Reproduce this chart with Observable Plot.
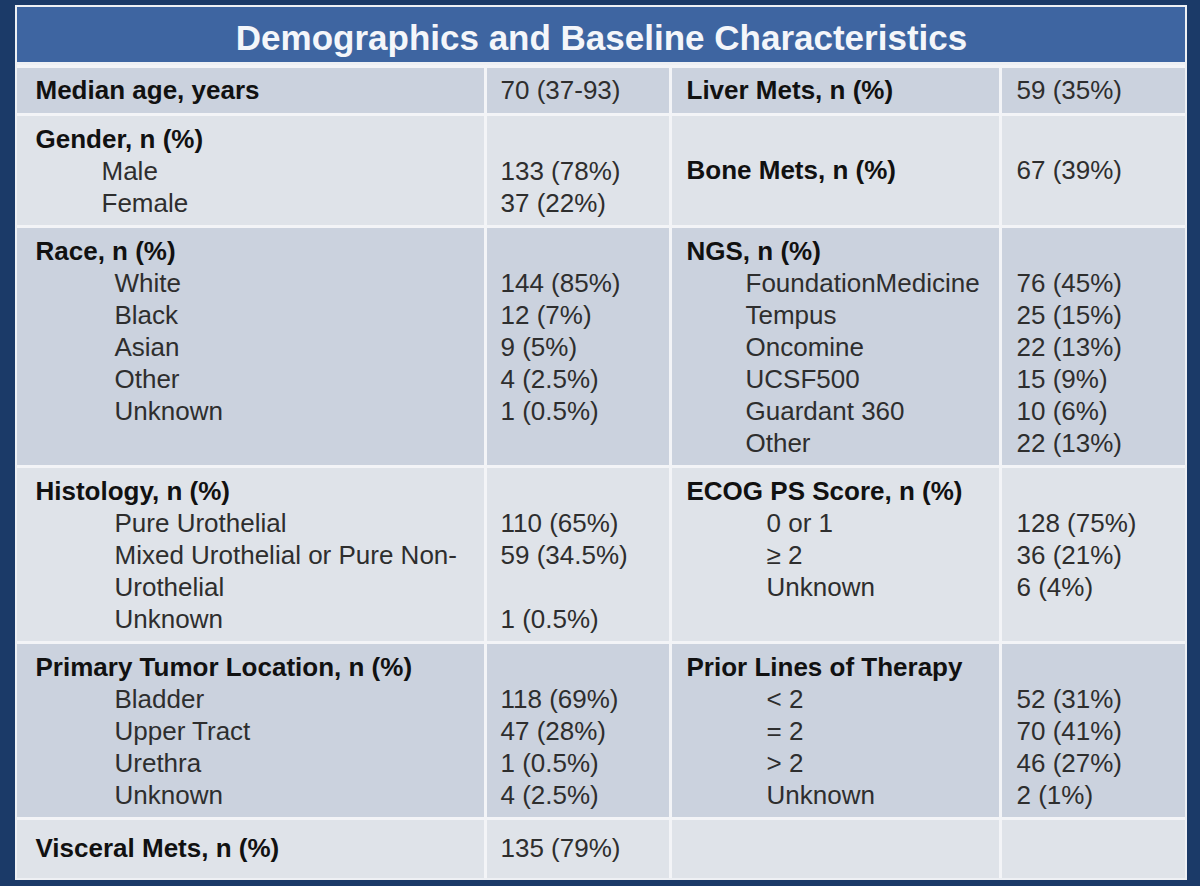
<!DOCTYPE html>
<html><head><meta charset="utf-8">
<script src="https://cdn.jsdelivr.net/npm/d3@7"></script>
<script src="https://cdn.jsdelivr.net/npm/@observablehq/plot@0.6"></script>
<style>
html,body{margin:0;padding:0;background:#1b3a68;}
#chart{width:1200px;height:886px;overflow:hidden;}
</style></head><body><div id="chart"></div>
<script>
const title = "Demographics and Baseline Characteristics";

// Section headers, left and right halves of each table row
const leftHeaders = ["Median age, years","Gender, n (%)","Race, n (%)","Histology, n (%)","Primary Tumor Location, n (%)","Visceral Mets, n (%)"];
const leftHeaderValues = ["70 (37-93)","","","","","135 (79%)"];
const rightHeaders = ["Liver Mets, n (%)","Bone Mets, n (%)","NGS, n (%)","ECOG PS Score, n (%)","Prior Lines of Therapy",""];
const rightHeaderValues = ["59 (35%)","67 (39%)","","","",""];

const genderLabels = ["Male","Female"];
const genderValues = ["133 (78%)","37 (22%)"];
const raceLabels = ["White","Black","Asian","Other","Unknown"];
const raceValues = ["144 (85%)","12 (7%)","9 (5%)","4 (2.5%)","1 (0.5%)"];
const histologyLabels = ["Pure Urothelial","Mixed Urothelial or Pure Non-\nUrothelial","Unknown"];
const histologyValues = ["110 (65%)","59 (34.5%)","1 (0.5%)"];
const tumorLabels = ["Bladder","Upper Tract","Urethra","Unknown"];
const tumorValues = ["118 (69%)","47 (28%)","1 (0.5%)","4 (2.5%)"];
const ngsLabels = ["FoundationMedicine","Tempus","Oncomine","UCSF500","Guardant 360","Other"];
const ngsValues = ["76 (45%)","25 (15%)","22 (13%)","15 (9%)","10 (6%)","22 (13%)"];
const ecogLabels = ["0 or 1","≥ 2","Unknown"];
const ecogValues = ["128 (75%)","36 (21%)","6 (4%)"];
const priorLabels = ["< 2","= 2","> 2","Unknown"];
const priorValues = ["52 (31%)","70 (41%)","46 (27%)","2 (1%)"];

const leftItems = [[[],[]],[genderLabels,genderValues],[raceLabels,raceValues],[histologyLabels,histologyValues],[tumorLabels,tumorValues],[[],[]]];
const rightItems = [[[],[]],[[],[]],[ngsLabels,ngsValues],[ecogLabels,ecogValues],[priorLabels,priorValues],[[],[]]];

// Layout (pixels for the x scale, line units for the y scale)
const layout = {
  colEdges: [17, 485, 670, 1000, 1185],
  outer: {x1: 15, x2: 1187, y1: 5, y2: 880},
  titleTop: 7, titleBottom: 62, titleCenter: 38,
  bodyTop: 66, bodyBottom: 878,
  lineHeight: 32, padTop: 0.28, padRow: 0.5,
  headerInset: [18, 16], valueInset: [15, 16],
  indentLeft: [0, 66, 79, 79, 79, 0],
  indentRight: [0, 0, 59, 80, 80, 0]
};
const rowFills = ["#cbd2de", "#dfe3e9"];
const D = (layout.bodyBottom - layout.bodyTop) / layout.lineHeight;
const toUnits = px => (px - layout.bodyTop) / layout.lineHeight;

// Build rows and text items
const rows = [];
const texts = [];
let cursor = 0;
const countLines = (items) => items[0].reduce((s, l) => s + l.split("\n").length, 0);
leftHeaders.forEach((lh, i) => {
  const nL = 1 + countLines(leftItems[i]);
  const nR = 1 + countLines(rightItems[i]);
  const n = Math.max(nL, nR);
  const last = i === leftHeaders.length - 1;
  const y1 = cursor, y2 = last ? D : cursor + n + layout.padRow;
  rows.push({i, y1, y2});
  const sides = [
    {h: lh, hv: leftHeaderValues[i], items: leftItems[i], c: 0, indent: layout.indentLeft[i]},
    {h: rightHeaders[i], hv: rightHeaderValues[i], items: rightItems[i], c: 2, indent: layout.indentRight[i]}
  ];
  sides.forEach((s, si) => {
    const labelX = layout.colEdges[s.c] + layout.headerInset[si];
    const valueX = layout.colEdges[s.c + 1] + layout.valueInset[si];
    const hasItems = s.items[0].length > 0;
    const first = y1 + layout.padTop + 0.5;
    const hy = hasItems ? first : (y1 + y2) / 2;
    if (s.h) texts.push({x: labelX, y: hy, text: s.h, bold: true});
    if (s.hv) texts.push({x: valueX, y: hy, text: s.hv, bold: false});
    let k = 1;
    s.items[0].forEach((lab, j) => {
      const ly = first + k;
      lab.split("\n").forEach((part, p) => {
        texts.push({x: labelX + s.indent, y: ly + p, text: part, bold: false});
      });
      texts.push({x: valueX, y: ly, text: s.items[1][j], bold: false});
      k += lab.split("\n").length;
    });
  });
  cursor = y2;
});

const boundaries = rows.map(r => r.y1);
const innerEdges = layout.colEdges.slice(1, -1);
const E = layout.colEdges;

const chart = Plot.plot({
  width: 1200, height: 886, margin: 0,
  x: {domain: [0, 1200], range: [0, 1200], axis: null},
  y: {domain: [0, D], range: [layout.bodyTop, layout.bodyBottom], axis: null},
  style: {background: "#1b3a68", fontFamily: "'Liberation Sans', Arial, sans-serif"},
  marks: [
    Plot.rect([layout.outer], {x1: "x1", x2: "x2", y1: d => toUnits(d.y1), y2: d => toUnits(d.y2), fill: "#eef0f4"}),
    Plot.rect([title], {x1: () => E[0], x2: () => E[4], y1: () => toUnits(layout.titleTop), y2: () => toUnits(layout.titleBottom), fill: "#3e65a1"}),
    Plot.rect(rows, {x1: () => E[0], x2: () => E[4], y1: "y1", y2: "y2", fill: d => rowFills[d.i % 2]}),
    Plot.ruleX(innerEdges, {x: d => d, y1: () => 0, y2: () => D, stroke: "#f3f4f7", strokeWidth: 3}),
    Plot.ruleY(boundaries, {y: d => d, x1: () => E[0], x2: () => E[4], stroke: "#f3f4f7", strokeWidth: 3}),
    Plot.text([title], {x: () => (E[0] + E[4]) / 2, y: () => toUnits(layout.titleCenter), text: d => d, fill: "#f4f6fa", fontSize: 35, fontWeight: "bold", textAnchor: "middle"}),
    Plot.text(texts.filter(d => d.bold), {x: "x", y: "y", text: "text", fill: "#111111", fontSize: 26, fontWeight: "bold", textAnchor: "start"}),
    Plot.text(texts.filter(d => !d.bold), {x: "x", y: "y", text: "text", fill: "#2e2e2e", fontSize: 26, textAnchor: "start"})
  ]
});
document.getElementById("chart").appendChild(chart);
</script>
</body></html>
